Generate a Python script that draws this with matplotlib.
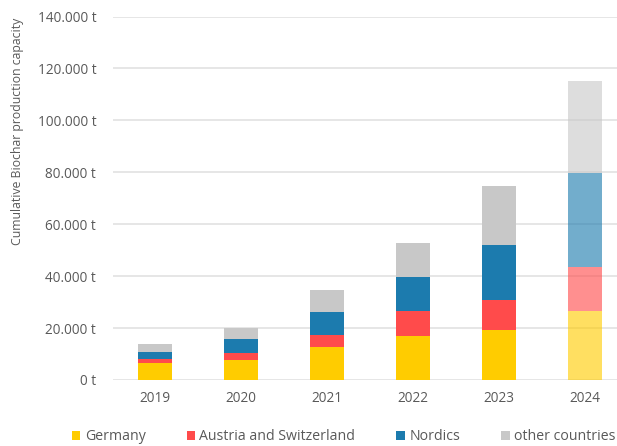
import matplotlib
matplotlib.use("Agg")
import matplotlib.pyplot as plt
from matplotlib.colors import to_rgba
import numpy as np

years = ["2019", "2020", "2021", "2022", "2023", "2024"]
germany = [6400, 7700, 12700, 16900, 19200, 26500]
austria_switzerland = [1500, 2600, 4500, 9600, 11800, 17100]
nordics = [2700, 5500, 9100, 13200, 20900, 36100]
other = [3200, 4300, 8200, 13100, 22700, 35300]

series = [
    ("Germany", germany, "#FFCC00"),
    ("Austria and Switzerland", austria_switzerland, "#FF4B4B"),
    ("Nordics", nordics, "#1C7BAE"),
    ("other countries", other, "#C8C8C8"),
]
yticks = [0, 20000, 40000, 60000, 80000, 100000, 120000, 140000]

plt.rcParams["font.family"] = ["Open Sans", "DejaVu Sans"]
text_color = "#595959"

fig = plt.figure(figsize=(6.17, 4.46), dpi=100)
ax = fig.add_axes([0.183, 0.148, 0.817, 0.815])

x = np.arange(len(years))
bottom = np.zeros(len(years))
for name, vals, col in series:
    vals = np.array(vals, dtype=float)
    # the latest year is a projection, drawn in a paler shade
    colors = [col] * (len(years) - 1) + [to_rgba(col, 0.62)]
    ax.bar(x, vals, width=0.39, bottom=bottom, color=colors, label=name,
           zorder=3, linewidth=0)
    bottom += vals

ax.set_xlim(-0.49, 5.37)
ax.set_ylim(0, 140000)
ax.set_yticks(yticks)
ax.set_yticklabels([f"{v:,.0f} t".replace(",", ".") for v in yticks])
ax.set_xticks(x)
ax.set_xticklabels(years)
ax.yaxis.grid(True, color="#E2E2E2", linewidth=1.2, zorder=0)
ax.set_axisbelow(True)
for s in ax.spines.values():
    s.set_visible(False)
ax.tick_params(axis="both", length=0, colors=text_color, labelsize=9.8)
ax.tick_params(axis="y", pad=12)
ax.tick_params(axis="x", pad=8)

fig.text(0.028, 0.705, "Cumulative Biochar production capacity", rotation=90,
         ha="center", va="center", color=text_color, fontsize=8.8)

handles, labels = ax.get_legend_handles_labels()
fig.legend(handles, labels, loc="lower center", bbox_to_anchor=(0.557, -0.025),
           ncol=4, frameon=False, fontsize=10.2, handlelength=0.6,
           handleheight=0.6, handletextpad=0.3, columnspacing=2.9,
           labelcolor=text_color)

fig.savefig("out.png", dpi=100)
